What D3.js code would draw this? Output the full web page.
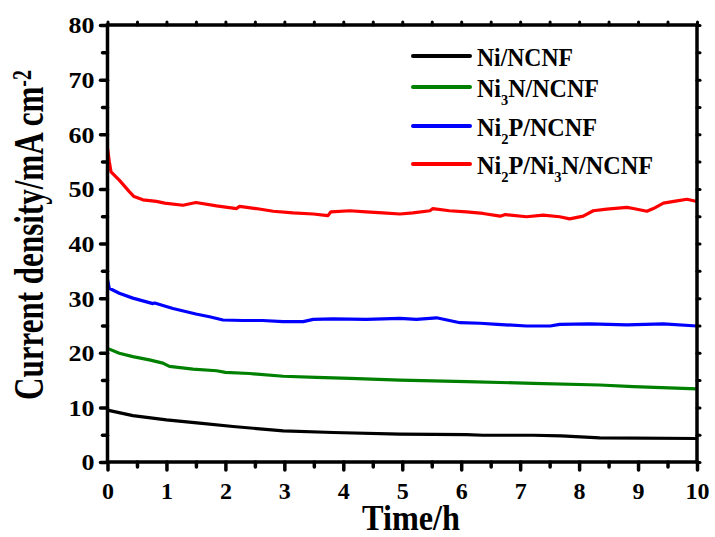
<!DOCTYPE html>
<html>
<head>
<meta charset="utf-8">
<script src="https://cdn.jsdelivr.net/npm/d3@7"></script>
<style>
  body { margin: 0; background: #fff; }
  svg { display: block; }
  text { font-family: "Liberation Serif", "Times New Roman", serif; font-weight: bold; fill: #000; }
</style>
</head>
<body>
<svg></svg>
<script>
'use strict';

// data (time in h, current density in mA cm-2)
var timeNi = [0, 0.43, 1.0, 1.56, 2.13, 2.98, 3.83, 4.96, 6.09, 6.37, 7.22, 7.7, 8.35, 10];
var valNi = [9.5, 8.5, 7.7, 7.1, 6.5, 5.7, 5.4, 5.1, 5.0, 4.9, 4.9, 4.8, 4.4, 4.3];

var timeNi3N = [0, 0.2, 0.43, 0.71, 0.94, 1.05, 1.45, 1.85, 2.0, 2.41, 2.98, 3.54, 4.11, 4.96, 6.09, 7.22, 8.35, 8.92, 10];
var valNi3N = [20.8, 19.9, 19.3, 18.7, 18.1, 17.5, 17.0, 16.7, 16.4, 16.2, 15.7, 15.5, 15.3, 15.0, 14.7, 14.4, 14.1, 13.8, 13.4];

var timeNi2P = [0, 0.03, 0.2, 0.43, 0.77, 0.8, 1.11, 1.5, 1.73, 1.96, 2.3, 2.63, 2.98, 3.32, 3.49, 3.83, 4.39, 4.96,
  5.24, 5.58, 5.98, 6.32, 6.61, 7.11, 7.51, 7.67, 8.18, 8.81, 9.43, 10];
var valNi2P = [33.4, 31.8, 30.9, 30.0, 29.0, 29.1, 28.1, 27.1, 26.6, 26.0, 25.9, 25.9, 25.7, 25.7, 26.1, 26.2, 26.1, 26.3,
  26.1, 26.4, 25.5, 25.4, 25.2, 24.9, 24.9, 25.2, 25.3, 25.1, 25.3, 24.9];

var timeHybrid = [0, 0.03, 0.06, 0.2, 0.37, 0.45, 0.6, 0.83, 0.97, 1.28, 1.5, 1.85, 2.19, 2.24, 2.52, 2.81, 3.15, 3.49,
  3.74, 3.79, 4.11, 4.39, 4.67, 4.96, 5.18, 5.47, 5.52, 5.8, 6.09, 6.37, 6.66, 6.75, 7.11, 7.39, 7.67, 7.84,
  8.07, 8.24, 8.47, 8.81, 8.92, 9.15, 9.26, 9.43, 9.66, 9.83, 10];
var valHybrid = [57.5, 55.0, 53.1, 51.6, 49.5, 48.6, 48.0, 47.7, 47.4, 47.0, 47.5, 46.9, 46.4, 46.8, 46.4, 45.9, 45.6, 45.4,
  45.1, 45.8, 46.0, 45.8, 45.6, 45.4, 45.6, 46.0, 46.4, 46.0, 45.8, 45.5, 45.0, 45.3, 44.9, 45.2, 44.9, 44.5,
  45.0, 46.0, 46.3, 46.6, 46.4, 45.9, 46.4, 47.4, 47.8, 48.1, 47.7];

// legend labels, {n} = subscript
var seriesNames = ['Ni/NCNF', 'Ni{3}N/NCNF', 'Ni{2}P/NCNF', 'Ni{2}P/Ni{3}N/NCNF'];
var seriesColors = ['#000000', '#008000', '#0000ff', '#ff0000'];

var xTicks = [0, 1, 2, 3, 4, 5, 6, 7, 8, 9, 10];
var yTicks = [0, 10, 20, 30, 40, 50, 60, 70, 80];

var SVG_SIZE = { width: 715, height: 537 };
var PLOT = { left: 107.5, right: 697, top: 25, bottom: 462 };

var svg = d3.select('svg').attr('width', SVG_SIZE.width).attr('height', SVG_SIZE.height);

var xScale = d3.scaleLinear().domain([0, 10]).range([PLOT.left, PLOT.right]);
var yScale = d3.scaleLinear().domain([0, 80]).range([PLOT.bottom, PLOT.top]);

var series = [
  { t: timeNi, v: valNi },
  { t: timeNi3N, v: valNi3N },
  { t: timeNi2P, v: valNi2P },
  { t: timeHybrid, v: valHybrid }
];

var line = d3.line()
  .x(function (d) { return xScale(d[0]); })
  .y(function (d) { return yScale(d[1]); });

series.forEach(function (s, i) {
  var pts = s.t.map(function (t, j) { return [t, s.v[j]]; });
  svg.append('path')
    .datum(pts)
    .attr('d', line)
    .attr('fill', 'none')
    .attr('stroke', seriesColors[i])
    .attr('stroke-width', 3.2)
    .attr('stroke-linejoin', 'round');
});

// axes
var minorX = d3.range(0.5, 10, 1);
var minorY = d3.range(5, 80, 10);

function styleAxis(g, w) {
  g.select('.domain').remove();
  g.selectAll('line').attr('stroke', '#000').attr('stroke-width', w).attr('stroke-linecap', 'round');
}

var xAxis = svg.append('g').attr('transform', 'translate(0,' + PLOT.bottom + ')')
  .call(d3.axisBottom(xScale).tickValues(xTicks).tickSize(8).tickPadding(12).tickFormat(d3.format('d')));
styleAxis(xAxis, 3.5);
xAxis.selectAll('text').attr('font-size', 24).attr('dy', '0.71em');

svg.append('g').attr('transform', 'translate(0,' + PLOT.bottom + ')')
  .call(d3.axisBottom(xScale).tickValues(minorX).tickSize(5).tickFormat(''))
  .call(styleAxis, 3.5);

var yAxis = svg.append('g').attr('transform', 'translate(' + PLOT.left + ',0)')
  .call(d3.axisLeft(yScale).tickValues(yTicks).tickSize(7).tickPadding(6).tickFormat(d3.format('d')));
styleAxis(yAxis, 3.5);
yAxis.selectAll('text').attr('font-size', 24).attr('dy', '0.33em')
  .attr('textLength', function (d) { return d >= 10 ? 26 : 13; })
  .attr('lengthAdjust', 'spacingAndGlyphs');

svg.append('g').attr('transform', 'translate(' + PLOT.left + ',0)')
  .call(d3.axisLeft(yScale).tickValues(minorY).tickSize(5).tickFormat(''))
  .call(styleAxis, 3.5);

// small outward ticks on top and right
svg.append('g').attr('transform', 'translate(0,' + PLOT.top + ')')
  .call(d3.axisTop(xScale).tickValues(xTicks.concat(minorX)).tickSize(3).tickFormat(''))
  .call(styleAxis, 3);
svg.append('g').attr('transform', 'translate(' + PLOT.right + ',0)')
  .call(d3.axisRight(yScale).tickValues(yTicks.concat(minorY)).tickSize(3).tickFormat(''))
  .call(styleAxis, 3);

// frame
svg.append('rect')
  .attr('x', PLOT.left).attr('y', PLOT.top)
  .attr('width', PLOT.right - PLOT.left).attr('height', PLOT.bottom - PLOT.top)
  .attr('fill', 'none').attr('stroke', '#000').attr('stroke-width', 3.5);

// axis titles
svg.append('text')
  .attr('x', 362).attr('y', 530)
  .attr('font-size', 36)
  .attr('textLength', 98).attr('lengthAdjust', 'spacingAndGlyphs')
  .text('Time/h');

var yTitle = svg.append('text')
  .attr('transform', 'translate(43,235) rotate(-90)')
  .attr('text-anchor', 'middle')
  .attr('font-size', 42)
  .attr('textLength', 330).attr('lengthAdjust', 'spacingAndGlyphs');
yTitle.append('tspan').text('Current density/mA cm');
yTitle.append('tspan').attr('font-size', 27).attr('dy', -12).text('-2');

// legend
var legendLineY = [56, 87, 126, 164];
var legendTextLen = [96, 122, 120, 176];

seriesNames.forEach(function (name, i) {
  svg.append('line')
    .attr('x1', 413).attr('x2', 470)
    .attr('y1', legendLineY[i]).attr('y2', legendLineY[i])
    .attr('stroke', seriesColors[i]).attr('stroke-width', 4).attr('stroke-linecap', 'round');

  var txt = svg.append('text')
    .attr('x', 477).attr('y', legendLineY[i] + 9.5)
    .attr('font-size', 25)
    .attr('textLength', legendTextLen[i]).attr('lengthAdjust', 'spacingAndGlyphs');
  var parts = name.split(/(\{\d\})/).filter(function (p) { return p.length; });
  var shifted = false;
  parts.forEach(function (p) {
    var m = p.match(/^\{(\d)\}$/);
    if (m) {
      txt.append('tspan').attr('font-size', 15).attr('dy', 8).text(m[1]);
      shifted = true;
    } else {
      txt.append('tspan').attr('dy', shifted ? -8 : 0).text(p);
      shifted = false;
    }
  });
});
</script>
</body>
</html>
